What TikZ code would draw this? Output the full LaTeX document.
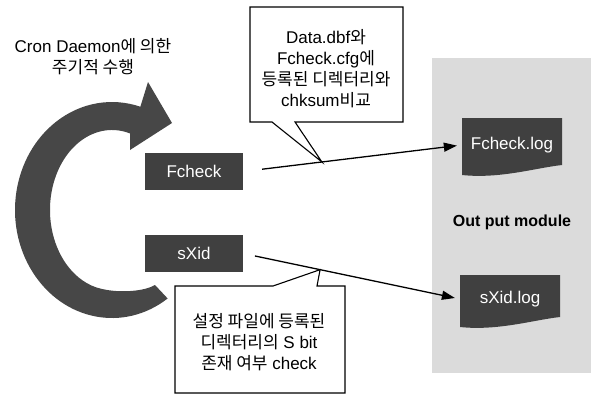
\documentclass[tikz,border=0pt]{standalone}
\usepackage{fontspec}
\setmainfont{Liberation Sans}
\newfontfamily\kr{Noto Sans CJK KR}
\usetikzlibrary{arrows.meta}

\begin{document}
\begin{tikzpicture}[x=1pt,y=-1pt,>={Triangle[length=13pt,width=9pt]},
  every node/.style={font=\fontsize{17}{21}\selectfont},
  dark box/.style={fill=black!75,text=white,minimum width=98pt,minimum height=37pt,inner sep=0pt},
  log doc/.style={text=white,minimum width=100pt,minimum height=47pt,inner sep=0pt},
  note text/.style={align=center,inner sep=0pt},
  note/.style={draw,line width=1.1pt,fill=white,line join=miter},
  flow/.style={->,line width=1.3pt}]
  \useasboundingbox (0,0) rectangle (591,397);
  % output area
  \fill[black!14] (432,58) rectangle (591,373);
  \fill[black!75] (462,118) -- (562,118) -- (562,165) .. controls (535,168) and (500,179) .. (462,175) -- cycle;
  \fill[black!75] (460,275) -- (560,275) -- (560,317) .. controls (533,320) and (498,331) .. (460,327) -- cycle;
  % cron cycle arrow
  \fill[black!72] (112,210) ++(55:97 and 108) arc[start angle=55,end angle=287,x radius=97,y radius=108]
    -- (148,82) -- (172,123) -- (130,150) -- (130.1,133.5)
    arc[start angle=287,end angle=100,x radius=62,y radius=80]
    .. controls (121,293.5) and (145,291) .. (155,285) -- cycle;
  \node[note text] (cron) at (93,57) {Cron Daemon{\kr 에 의한}\\{\kr 주기적 수행}};
  \node[dark box] (Fcheck) at (194,171.5) {Fcheck};
  \node[dark box] (sXid) at (194,253.5) {sXid};
  \node[log doc] (Fchecklog) at (512,145) {Fcheck.log};
  \node[log doc] (sXidlog) at (510,299) {sXid.log};
  \node[font=\fontsize{16}{20}\selectfont\bfseries] (outmod) at (512,222) {Out put module};
  % callout tips sit on the connectors
  \path (Fcheck.east) -- (Fchecklog.west) coordinate[pos=0.36] (cfgtip);
  \path (sXid.east) -- (sXidlog.west) coordinate[pos=0.355] (sbittip);
  % callouts
  \draw[note] (250,7) -- (403,7) -- (403,122) -- (295,122) -- (cfgtip) -- (272,122) -- (250,122) -- cycle;
  \node[note text] (cfgnote) at (326,68.5) {Data.dbf{\kr 와}\\Fcheck.cfg{\kr 에}\\{\kr 등록된 디렉터리와}\\chksum{\kr 비교}};
  \draw[note] (175,286) -- (273,286) -- (sbittip) -- (317,286) -- (345,286) -- (345,393) -- (175,393) -- cycle;
  \node[note text] (sbitnote) at (259,342.5) {{\kr 설정 파일에 등록된}\\{\kr 디렉터리의} S bit\\{\kr 존재 여부} check};
  \draw[flow,shorten <=19pt,shorten >=5pt] (Fcheck.east) -- (Fchecklog.west);
  \draw[flow,shorten <=12pt,shorten >=5pt] (sXid.east) -- (sXidlog.west);
\end{tikzpicture}
\end{document}
